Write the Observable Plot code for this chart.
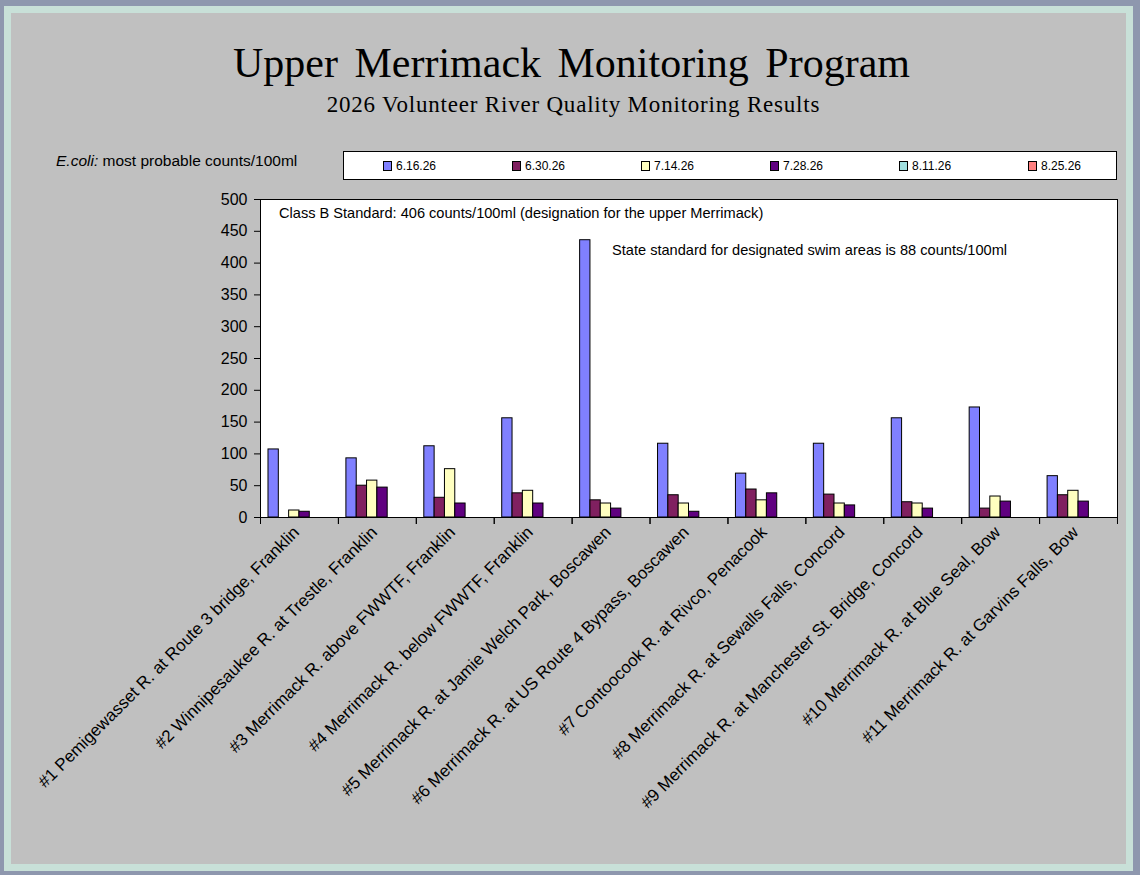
<!DOCTYPE html>
<html>
<head>
<meta charset="utf-8">
<script src="https://cdn.jsdelivr.net/npm/d3@7"></script>
<script src="https://cdn.jsdelivr.net/npm/@observablehq/plot@0.6"></script>
<style>
  html, body { margin: 0; padding: 0; }
  body { width: 1140px; height: 875px; background: #8e97ae; position: relative; overflow: hidden; font-family: "Liberation Sans", Arial, sans-serif; color: #000; }
  .abs { position: absolute; }
  #mint { left: 4px; top: 6px; width: 1129px; height: 865px; background: #c8e0d8; }
  #gray { left: 11px; top: 13px; width: 1115px; height: 851px; background: #c0c0c0; }
  #title { left: 14px; width: 1115px; top: 42px; text-align: center; font-family: "Liberation Serif", serif; font-size: 42px; line-height: 42px; word-spacing: 6px; }
  #subtitle { left: 16px; width: 1115px; top: 93px; text-align: center; font-family: "Liberation Serif", serif; font-size: 23px; line-height: 23px; letter-spacing: 0.8px; }
  #ylabel { left: 56px; top: 153px; font-size: 15.5px; line-height: 16px; white-space: nowrap; }
  #plotbox { left: 260px; top: 199px; width: 858px; height: 319px; box-sizing: border-box; background: #fff; border: 1px solid #000; }
  #chart { left: 11px; top: 185px; }
  #legend { left: 343px; top: 151px; width: 774px; height: 29px; box-sizing: border-box; background: #fff; border: 1px solid #000; display: flex; align-items: center; padding-left: 39px; overflow: hidden; }
  .item { flex: 0 0 129px; display: flex; align-items: center; font-family: "Liberation Sans Narrow", "Arial Narrow", "Liberation Sans", sans-serif; font-size: 12px; }
  .sw { width: 7px; height: 8px; border: 1px solid #000; margin-right: 4px; }
  .note { font-size: 14.6px; line-height: 15px; white-space: nowrap; }
  #note1 { left: 279px; top: 206px; }
  #note2 { left: 612px; top: 243px; }
</style>
</head>
<body>
<div id="mint" class="abs"></div>
<div id="gray" class="abs"></div>
<div id="plotbox" class="abs"></div>
<div id="chart" class="abs"></div>
<div id="title" class="abs">Upper Merrimack Monitoring Program</div>
<div id="subtitle" class="abs">2026 Volunteer River Quality Monitoring Results</div>
<div id="ylabel" class="abs"><i>E.coli:</i> most probable counts/100ml</div>
<div id="legend" class="abs"></div>
<div id="note1" class="abs note">Class B Standard: 406 counts/100ml (designation for the upper Merrimack)</div>
<div id="note2" class="abs note">State standard for designated swim areas is 88 counts/100ml</div>
<script>
const stations = [
  "#1 Pemigewasset R. at Route 3 bridge, Franklin",
  "#2 Winnipesaukee R. at Trestle, Franklin",
  "#3 Merrimack R. above FWWTF, Franklin",
  "#4 Merrimack R. below FWWTF, Franklin",
  "#5 Merrimack R. at Jamie Welch Park, Boscawen",
  "#6 Merrimack R. at US Route 4 Bypass, Boscawen",
  "#7 Contoocook R. at Rivco, Penacook",
  "#8 Merrimack R. at Sewalls Falls, Concord",
  "#9 Merrimack R. at Manchester St. Bridge, Concord",
  "#10 Merrimack R. at Blue Seal, Bow",
  "#11 Merrimack R. at Garvins Falls, Bow"
];
const series = ["6.16.26", "6.30.26", "7.14.26", "7.28.26", "8.11.26", "8.25.26"];
const seriesColors = ["#8080ff", "#802060", "#ffffc0", "#600080", "#a0e0e0", "#ff8080"];
const v0616 = [107, 93, 112, 156, 436, 116, 69, 116, 156, 173, 65];
const v0630 = [null, 50, 31, 38, 27, 35, 44, 36, 24, 14, 35];
const v0714 = [11, 58, 76, 42, 22, 22, 27, 22, 22, 33, 42];
const v0728 = [9, 47, 22, 22, 14, 9, 38, 19, 14, 25, 25];
const v0811 = [null, null, null, null, null, null, null, null, null, null, null];
const v0825 = [null, null, null, null, null, null, null, null, null, null, null];
const yTicks = [0, 50, 100, 150, 200, 250, 300, 350, 400, 450, 500];

const allValues = [v0616, v0630, v0714, v0728, v0811, v0825];
const data = [];
series.forEach((s, i) => stations.forEach((st, j) => {
  const v = allValues[i][j];
  if (v != null) data.push({station: st, series: s, value: v});
}));

// legend
const legend = document.getElementById("legend");
series.forEach((s, i) => {
  const it = document.createElement("div");
  it.className = "item";
  const sw = document.createElement("div");
  sw.className = "sw";
  sw.style.background = seriesColors[i];
  const t = document.createElement("span");
  t.textContent = s;
  it.appendChild(sw); it.appendChild(t);
  legend.appendChild(it);
});

const plotH = 318;
const chart = Plot.plot({
  width: 1115,
  height: 679,
  marginLeft: 249,
  marginRight: 9,
  marginTop: 14,
  marginBottom: 347,
  style: {background: "transparent", color: "black", fontFamily: "Liberation Sans, Arial, sans-serif", fontSize: "16px", overflow: "visible"},
  fx: {domain: stations, padding: 0, round: false, label: null},
  x: {domain: series, paddingInner: 0, paddingOuter: 0.774, round: false, axis: null},
  y: {domain: [0, 500], ticks: yTicks, tickSize: 6, tickPadding: 7, label: null},
  color: {domain: series, range: seriesColors},
  marks: [
    Plot.frame({anchor: "left", insetTop: plotH, insetBottom: -6, stroke: "black"}),
    Plot.frame({anchor: "right", insetTop: plotH, insetBottom: -6, stroke: "black"}),
    Plot.barY(data, {fx: "station", x: "series", y: "value", fill: "series", stroke: "black", strokeWidth: 1}),
    Plot.axisFx({anchor: "bottom", tickRotate: -45, tickSize: 0, tickPadding: 8, dx: -3, dy: 4, label: null, fontSize: 17})
  ]
});
document.getElementById("chart").appendChild(chart);
</script>
</body>
</html>
